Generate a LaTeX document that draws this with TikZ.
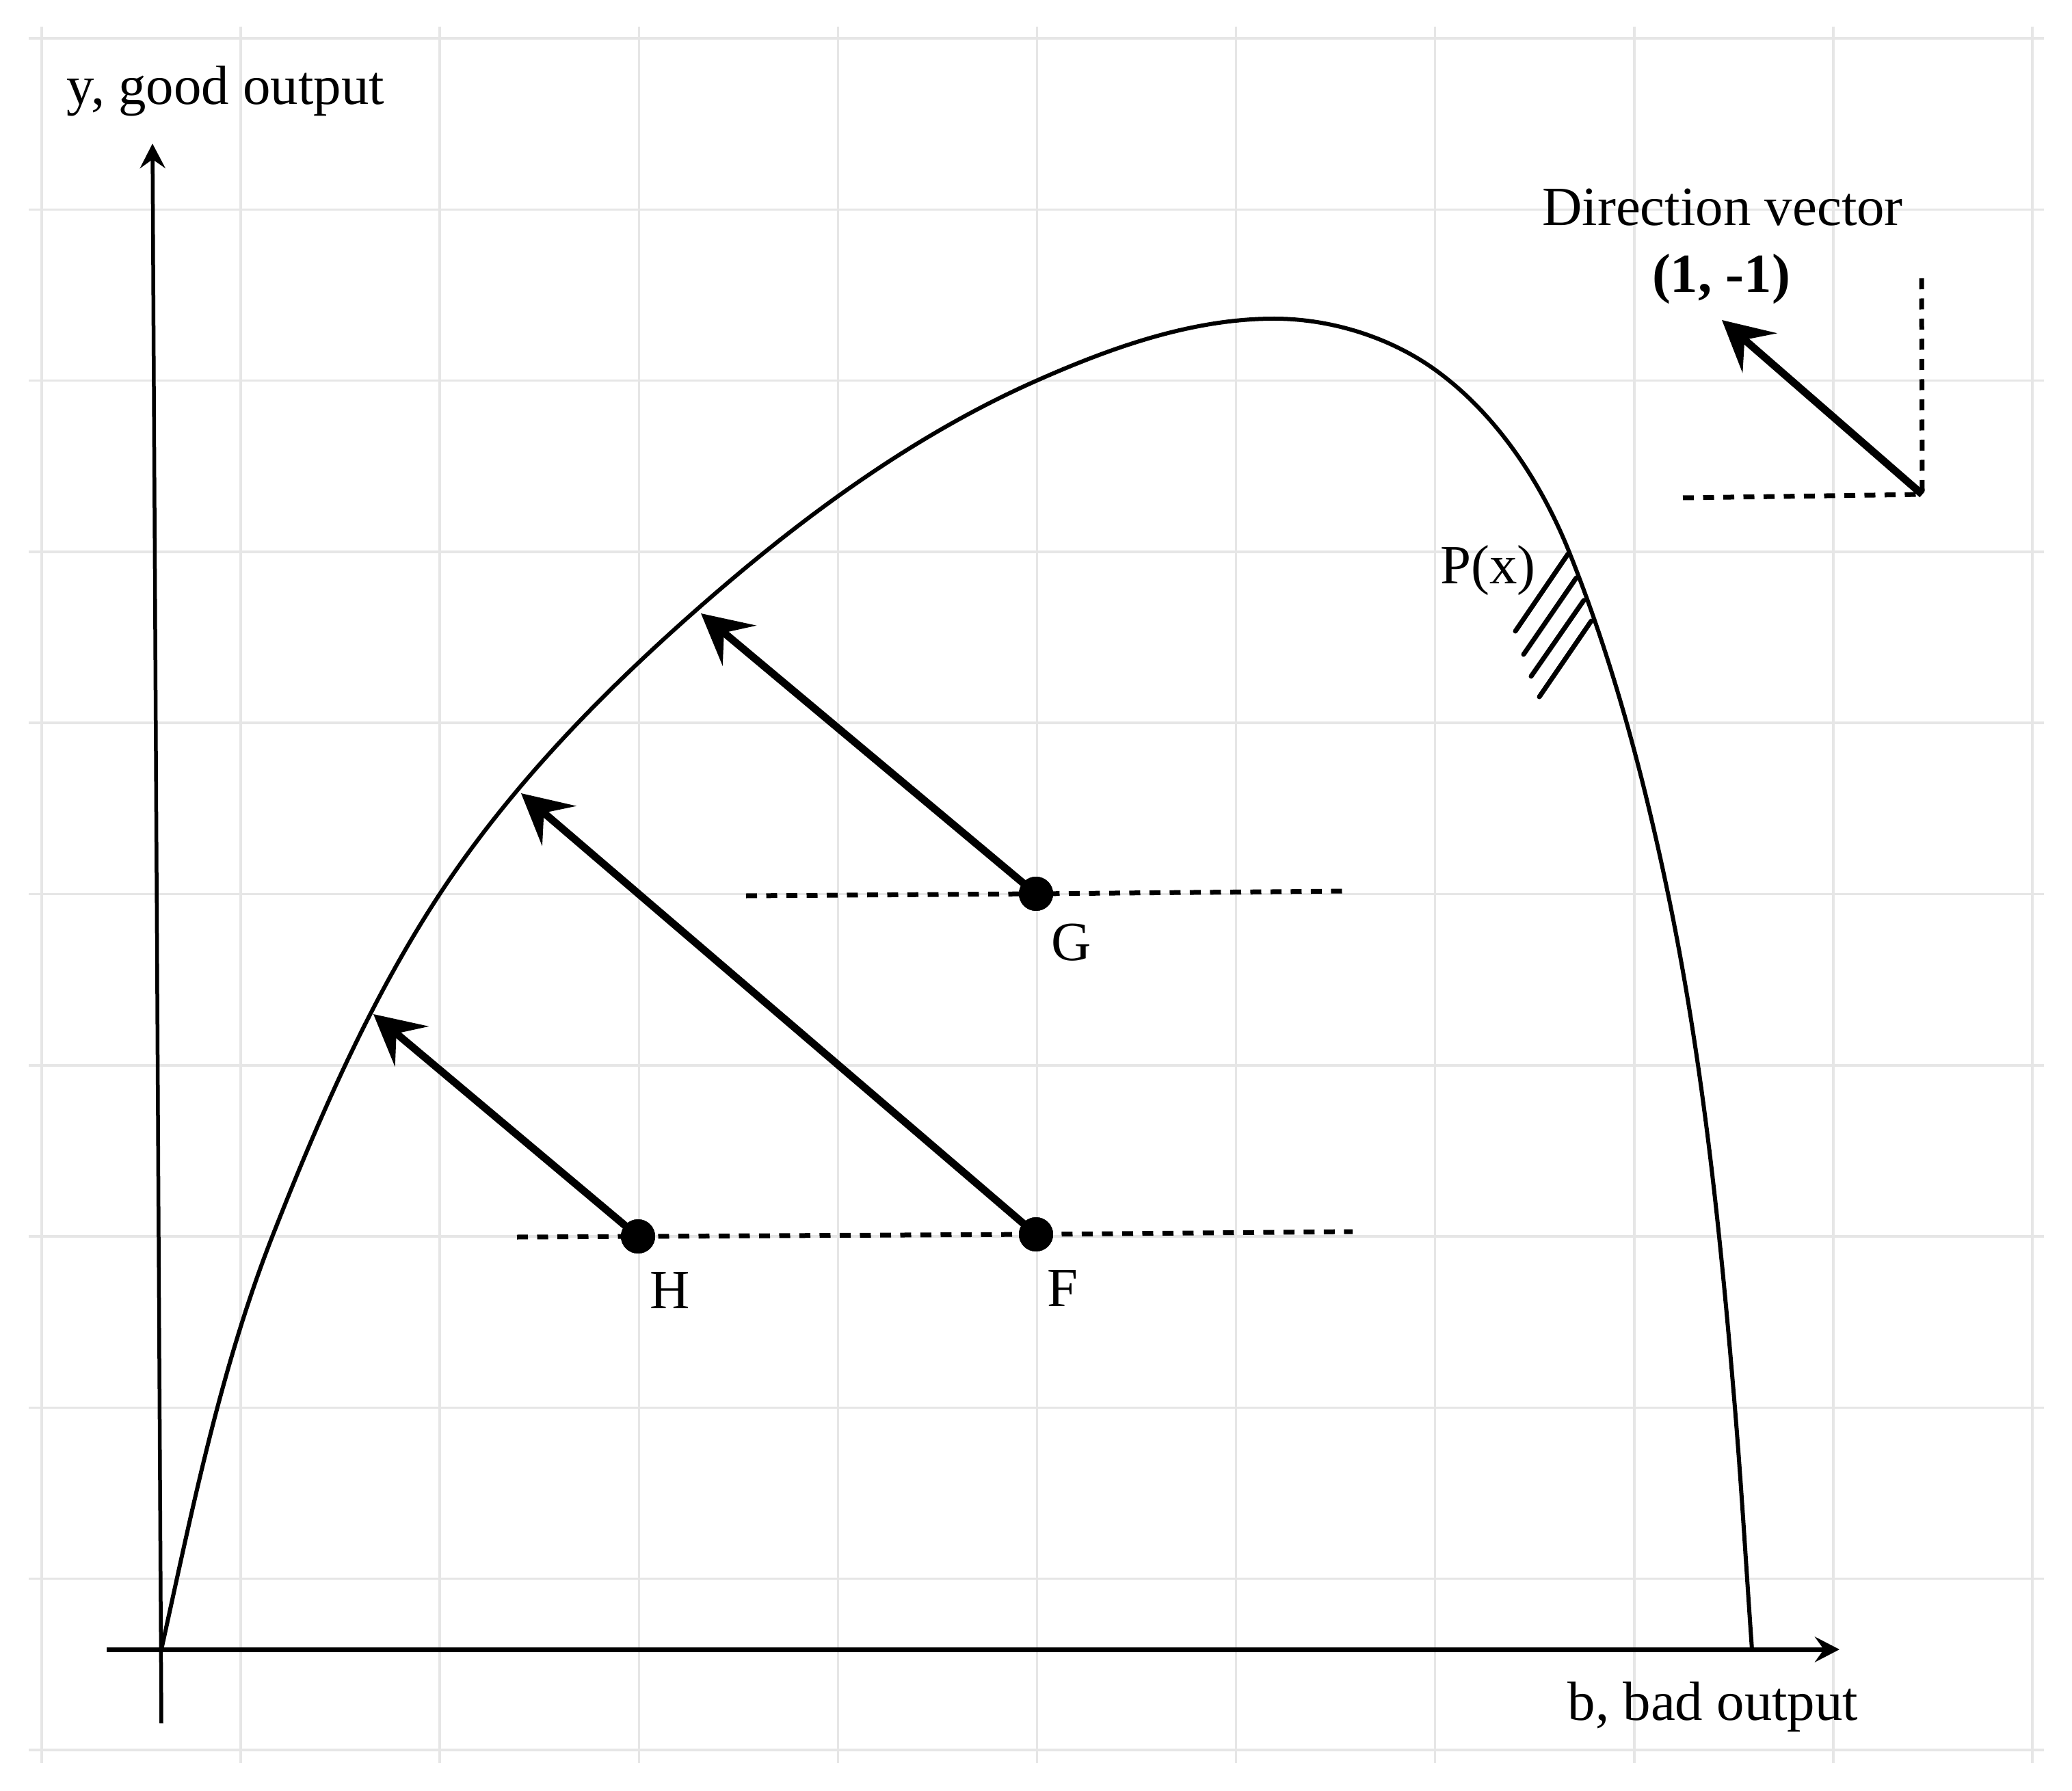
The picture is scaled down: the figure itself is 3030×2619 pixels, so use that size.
\documentclass[tikz,border=0pt]{standalone}
\usepackage{fontspec}
\setmainfont{Liberation Serif}
\usetikzlibrary{arrows.meta}
\definecolor{gridgray}{HTML}{E6E6E6}
\begin{document}
\begin{tikzpicture}[x=0.1mm,y=-0.1mm,
  gridline/.style={draw=gridgray,line width=0.35mm},
  curveline/.style={line width=0.6mm,line join=round},
  bigarrow/.style={line width=1.1mm,-{Stealth[length=7.3mm,width=7.6mm,inset=2.9mm]}},
  axisarrow/.style={-{Stealth[length=3.6mm,width=3.7mm,inset=1.3mm]}},
  dashline/.style={line width=0.7mm,dash pattern=on 1.6mm off 1.35mm},
  hatchline/.style={line width=0.7mm,line cap=round},
  dot/.style={circle,fill=black,minimum size=5mm,inner sep=0pt},
  lbl/.style={anchor=base,inner sep=0pt,font=\fontsize{23pt}{27pt}\selectfont}
]
\fill[white] (0,0) rectangle (3030,2619);
\useasboundingbox (0,0) rectangle (3030,2619);

% grid
\foreach \i in {0,...,10} { \draw[gridline] ({61+291.1*\i},39) -- ({61+291.1*\i},2578); }
\foreach \j in {0,...,10} { \draw[gridline] (42,{56+250.3*\j}) -- (2989,{56+250.3*\j}); }

% axes
\coordinate (xstart) at (156,2412);
\coordinate (xend) at (2690,2412);
\coordinate (ystart) at (236,2520);
\coordinate (yend) at (223,210);
\draw[line width=0.7mm,axisarrow] (xstart) -- (xend);
\draw[line width=0.55mm,axisarrow] (ystart) -- (yend);

% frontier curve
\draw[curveline] (236,2412)
  .. controls (281,2208) and (322.5,2000.6) .. (399,1806)
  .. controls (466.1,1635.4) and (540,1465.5) .. (640,1312)
  .. controls (740.4,1157.9) and (870.4,1023.1) .. (1008,901)
  .. controls (1160.7,765.4) and (1328.4,639.7) .. (1515,557)
  .. controls (1624.6,508.4) and (1743.1,466) .. (1863,466)
  .. controls (1945.5,466) and (2032.1,492.7) .. (2099,541)
  .. controls (2188.5,605.6) and (2254,705.5) .. (2295,808)
  .. controls (2359.1,968.4) and (2403.7,1136.8) .. (2439,1306)
  .. controls (2490.6,1553.5) and (2516,1806) .. (2537,2058)
  .. controls (2546.8,2176) and (2553.6,2294) .. (2562,2412);

% hatch at P(x)
\draw[hatchline] (2293,810) -- (2216,923);
\draw[hatchline] (2305,845) -- (2228,957);
\draw[hatchline] (2316,878) -- (2239,989);
\draw[hatchline] (2327,908) -- (2251,1019);

% points
\node[dot] (G) at (1515,1307) {};
\node[dot] (F) at (1515,1805) {};
\node[dot] (H) at (933,1808) {};

% dashed reference lines
\coordinate (Gl) at (1091,1310);
\coordinate (Gr) at (1975,1303);
\coordinate (Fl) at (756,1809);
\coordinate (Fr) at (1978,1801);
\draw[dashline] (Gl) -- (G.center) -- (Gr);
\draw[dashline] (Fl) -- (H.center) -- (F.center) -- (Fr);

% direction vector
\coordinate (dirO) at (2811,723);
\coordinate (dirtip) at (2518,468);
\coordinate (dirh) at (2461,728);
\coordinate (dirv) at (2810,407);
\draw[dashline] (dirh) -- (dirO);
\draw[dashline] (dirv) -- (dirO);
\draw[bigarrow] (dirO) -- (dirtip);

% arrows to frontier
\coordinate (Gtip) at (1025,897);
\coordinate (Ftip) at (762,1160);
\coordinate (Htip) at (546,1483);
\draw[bigarrow] (G.center) -- (Gtip);
\draw[bigarrow] (F.center) -- (Ftip);
\draw[bigarrow] (H.center) -- (Htip);

% dots on top
\node[dot] at (G.center) {};
\node[dot] at (F.center) {};
\node[dot] at (H.center) {};

% labels
\node[lbl] (ylab) at (330,153) {y, good output};
\node[lbl] (blab) at (2505,2515) {b, bad output};
\node[lbl] (dirlab) at (2519,330) {Direction vector};
\node[lbl,font=\fontsize{23pt}{27pt}\selectfont\bfseries] (veclab) at (2517,428) {(1, -1)};
\node[lbl] (plab) at (2176,853) {P(x)};
\node[lbl] (glab) at (1567,1404) {G};
\node[lbl] (flab) at (1554,1910) {F};
\node[lbl] (hlab) at (980,1913) {H};
\end{tikzpicture}
\end{document}
